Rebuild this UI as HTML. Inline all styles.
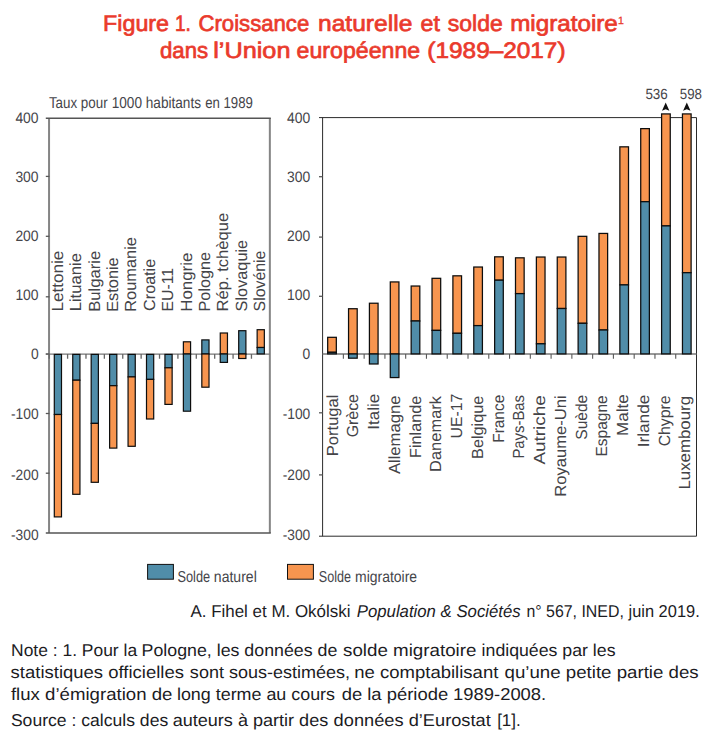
<!DOCTYPE html>
<html><head><meta charset="utf-8"><title>Figure 1</title>
<style>
html,body{margin:0;padding:0;background:#fff;}
body{width:717px;height:740px;overflow:hidden;font-family:"Liberation Sans",sans-serif;}
svg{display:block;position:absolute;left:0;top:0;}
text{font-family:"Liberation Sans",sans-serif;text-rendering:geometricPrecision;}
</style></head><body>
<svg width="717" height="740" viewBox="0 0 717 740">
<rect x="0" y="0" width="717" height="740" fill="#ffffff"/>

<g fill="#ea3a2c" stroke="#ea3a2c" stroke-width="0.7" font-size="22.5px" font-weight="normal">
<text x="103.09" y="31.4" textLength="65.94" lengthAdjust="spacingAndGlyphs">Figure</text>
<text x="174.96" y="31.4" textLength="15.86" lengthAdjust="spacingAndGlyphs">1.</text>
<text x="198.44" y="31.4" textLength="110.83" lengthAdjust="spacingAndGlyphs">Croissance</text>
<text x="318.05" y="31.4" textLength="94.25" lengthAdjust="spacingAndGlyphs">naturelle</text>
<text x="420.61" y="31.4" textLength="19.35" lengthAdjust="spacingAndGlyphs">et</text>
<text x="447.85" y="31.4" textLength="54.84" lengthAdjust="spacingAndGlyphs">solde</text>
<text x="510.18" y="31.4" textLength="107.63" lengthAdjust="spacingAndGlyphs">migratoire</text>
<text x="159.99" y="57.7" textLength="48.23" lengthAdjust="spacingAndGlyphs">dans</text>
<text x="213.21" y="57.7" textLength="77.27" lengthAdjust="spacingAndGlyphs">l’Union</text>
<text x="296.64" y="57.7" textLength="123.50" lengthAdjust="spacingAndGlyphs">européenne</text>
<text x="427.39" y="57.7" textLength="138.16" lengthAdjust="spacingAndGlyphs">(1989–2017)</text>
<text x="617.9" y="23.9" font-size="10.5px" stroke-width="0.3">1</text>
</g>
<g stroke="#585858" stroke-width="1.3" fill="none">
<path d="M49.05 118.1 V533.0 M269.85 118.1 V533.0" stroke="#858585" stroke-width="2"/>
<path d="M45.8 118.2 H270.8 M45.8 533.0 H270.8" stroke="#555" stroke-width="1.6"/>
<path d="M45.8 354.1 H270.0" stroke="#777" stroke-width="1.4"/>
<path d="M45.8 176.4 H49.4"/>
<path d="M45.8 236.3 H49.4"/>
<path d="M45.8 296.8 H49.4"/>
<path d="M45.8 354.0 H49.4"/>
<path d="M45.8 413.5 H49.4"/>
<path d="M45.8 473.2 H49.4"/>
<path d="M49.20 354.0 V358.8 M67.59 354.0 V358.8 M85.98 354.0 V358.8 M104.36 354.0 V358.8 M122.75 354.0 V358.8 M141.14 354.0 V358.8 M159.53 354.0 V358.8 M177.91 354.0 V358.8 M196.30 354.0 V358.8 M214.69 354.0 V358.8 M233.08 354.0 V358.8 M251.46 354.0 V358.8 " stroke-width="1.3" stroke="#666"/>
</g>
<g font-size="15.2px" fill="#45454a" text-anchor="end">
<text x="38.6" y="123.2" textLength="23.2" lengthAdjust="spacingAndGlyphs">400</text>
<text x="38.6" y="181.8" textLength="23.2" lengthAdjust="spacingAndGlyphs">300</text>
<text x="38.6" y="241.4" textLength="23.2" lengthAdjust="spacingAndGlyphs">200</text>
<text x="38.6" y="300.3" textLength="23.2" lengthAdjust="spacingAndGlyphs">100</text>
<text x="38.6" y="359.4" textLength="7.7" lengthAdjust="spacingAndGlyphs">0</text>
<text x="38.6" y="419.3" textLength="27.6" lengthAdjust="spacingAndGlyphs">-100</text>
<text x="38.6" y="480.3" textLength="27.6" lengthAdjust="spacingAndGlyphs">-200</text>
<text x="38.6" y="540.0" textLength="27.6" lengthAdjust="spacingAndGlyphs">-300</text>
</g>
<g>
<rect x="54.30" y="354.40" width="7.20" height="60.10" fill="#508da9" stroke="#0d0d0d" stroke-width="1.2"/>
<rect x="54.30" y="414.50" width="7.20" height="102.40" fill="#f7954f" stroke="#0d0d0d" stroke-width="1.2"/>
<rect x="72.74" y="354.40" width="7.20" height="25.80" fill="#508da9" stroke="#0d0d0d" stroke-width="1.2"/>
<rect x="72.74" y="380.20" width="7.20" height="114.10" fill="#f7954f" stroke="#0d0d0d" stroke-width="1.2"/>
<rect x="91.18" y="354.40" width="7.20" height="69.00" fill="#508da9" stroke="#0d0d0d" stroke-width="1.2"/>
<rect x="91.18" y="423.40" width="7.20" height="58.90" fill="#f7954f" stroke="#0d0d0d" stroke-width="1.2"/>
<rect x="109.62" y="354.40" width="7.20" height="31.30" fill="#508da9" stroke="#0d0d0d" stroke-width="1.2"/>
<rect x="109.62" y="385.70" width="7.20" height="62.40" fill="#f7954f" stroke="#0d0d0d" stroke-width="1.2"/>
<rect x="128.06" y="354.40" width="7.20" height="22.50" fill="#508da9" stroke="#0d0d0d" stroke-width="1.2"/>
<rect x="128.06" y="376.90" width="7.20" height="69.40" fill="#f7954f" stroke="#0d0d0d" stroke-width="1.2"/>
<rect x="146.50" y="354.40" width="7.20" height="25.00" fill="#508da9" stroke="#0d0d0d" stroke-width="1.2"/>
<rect x="146.50" y="379.40" width="7.20" height="39.60" fill="#f7954f" stroke="#0d0d0d" stroke-width="1.2"/>
<rect x="164.94" y="354.40" width="7.20" height="13.40" fill="#508da9" stroke="#0d0d0d" stroke-width="1.2"/>
<rect x="164.94" y="367.80" width="7.20" height="36.60" fill="#f7954f" stroke="#0d0d0d" stroke-width="1.2"/>
<rect x="183.38" y="341.80" width="7.20" height="12.20" fill="#f7954f" stroke="#0d0d0d" stroke-width="1.2"/>
<rect x="183.38" y="354.00" width="7.20" height="57.20" fill="#508da9" stroke="#0d0d0d" stroke-width="1.2"/>
<rect x="201.82" y="339.90" width="7.20" height="14.10" fill="#508da9" stroke="#0d0d0d" stroke-width="1.2"/>
<rect x="201.82" y="354.00" width="7.20" height="33.20" fill="#f7954f" stroke="#0d0d0d" stroke-width="1.2"/>
<rect x="220.26" y="333.00" width="7.20" height="21.00" fill="#f7954f" stroke="#0d0d0d" stroke-width="1.2"/>
<rect x="220.26" y="354.00" width="7.20" height="8.40" fill="#508da9" stroke="#0d0d0d" stroke-width="1.2"/>
<rect x="238.70" y="330.70" width="7.20" height="23.30" fill="#508da9" stroke="#0d0d0d" stroke-width="1.2"/>
<rect x="238.70" y="354.00" width="7.20" height="4.50" fill="#f7954f" stroke="#0d0d0d" stroke-width="1.2"/>
<rect x="257.14" y="329.70" width="7.20" height="17.80" fill="#f7954f" stroke="#0d0d0d" stroke-width="1.2"/>
<rect x="257.14" y="347.50" width="7.20" height="6.40" fill="#508da9" stroke="#0d0d0d" stroke-width="1.2"/>
</g>
<g stroke="#2a2a2a" stroke-width="1" fill="none">
<path d="M319.0 117.6 H696.5 V536.2 H319.0 M322.6 117.6 V536.2"/>
</g>
<g stroke="#585858" stroke-width="1.3" fill="none">
<path d="M322.6 354.0 H696.5" stroke="#777"/>
<path d="M319.0 176.7 H322.6"/>
<path d="M319.0 237.1 H322.6"/>
<path d="M319.0 296.3 H322.6"/>
<path d="M319.0 412.8 H322.6"/>
<path d="M319.0 474.9 H322.6"/>
<path d="M343.37 354.0 V358.8 M364.14 354.0 V358.8 M384.92 354.0 V358.8 M405.69 354.0 V358.8 M426.46 354.0 V358.8 M447.23 354.0 V358.8 M468.01 354.0 V358.8 M488.78 354.0 V358.8 M509.55 354.0 V358.8 M530.32 354.0 V358.8 M551.09 354.0 V358.8 M571.87 354.0 V358.8 M592.64 354.0 V358.8 M613.41 354.0 V358.8 M634.18 354.0 V358.8 M654.96 354.0 V358.8 M675.73 354.0 V358.8 " stroke-width="1.1"/>
</g>
<g font-size="15.2px" fill="#45454a" text-anchor="end">
<text x="310.3" y="123.2" textLength="23.2" lengthAdjust="spacingAndGlyphs">400</text>
<text x="310.3" y="181.8" textLength="23.2" lengthAdjust="spacingAndGlyphs">300</text>
<text x="310.3" y="241.3" textLength="23.2" lengthAdjust="spacingAndGlyphs">200</text>
<text x="310.3" y="300.3" textLength="23.2" lengthAdjust="spacingAndGlyphs">100</text>
<text x="310.3" y="359.4" textLength="7.7" lengthAdjust="spacingAndGlyphs">0</text>
<text x="310.3" y="418.9" textLength="27.6" lengthAdjust="spacingAndGlyphs">-100</text>
<text x="310.3" y="480.3" textLength="27.6" lengthAdjust="spacingAndGlyphs">-200</text>
<text x="310.3" y="540.1" textLength="27.6" lengthAdjust="spacingAndGlyphs">-300</text>
</g>
<g>
<rect x="327.68" y="337.32" width="8.65" height="14.98" fill="#f7954f" stroke="#0d0d0d" stroke-width="1.25"/>
<rect x="327.68" y="352.30" width="8.65" height="1.57" fill="#508da9" stroke="#0d0d0d" stroke-width="1.25"/>
<rect x="348.55" y="308.73" width="8.65" height="45.27" fill="#f7954f" stroke="#0d0d0d" stroke-width="1.25"/>
<rect x="348.55" y="354.00" width="8.65" height="4.18" fill="#508da9" stroke="#0d0d0d" stroke-width="1.25"/>
<rect x="369.42" y="303.23" width="8.65" height="50.77" fill="#f7954f" stroke="#0d0d0d" stroke-width="1.25"/>
<rect x="369.42" y="354.00" width="8.65" height="9.98" fill="#508da9" stroke="#0d0d0d" stroke-width="1.25"/>
<rect x="390.29" y="281.93" width="8.65" height="72.07" fill="#f7954f" stroke="#0d0d0d" stroke-width="1.25"/>
<rect x="390.29" y="354.00" width="8.65" height="23.57" fill="#508da9" stroke="#0d0d0d" stroke-width="1.25"/>
<rect x="411.16" y="286.03" width="8.65" height="34.97" fill="#f7954f" stroke="#0d0d0d" stroke-width="1.25"/>
<rect x="411.16" y="321.00" width="8.65" height="32.88" fill="#508da9" stroke="#0d0d0d" stroke-width="1.25"/>
<rect x="432.03" y="278.32" width="8.65" height="52.07" fill="#f7954f" stroke="#0d0d0d" stroke-width="1.25"/>
<rect x="432.03" y="330.40" width="8.65" height="23.48" fill="#508da9" stroke="#0d0d0d" stroke-width="1.25"/>
<rect x="452.90" y="275.82" width="8.65" height="57.48" fill="#f7954f" stroke="#0d0d0d" stroke-width="1.25"/>
<rect x="452.90" y="333.30" width="8.65" height="20.57" fill="#508da9" stroke="#0d0d0d" stroke-width="1.25"/>
<rect x="473.77" y="267.03" width="8.65" height="58.57" fill="#f7954f" stroke="#0d0d0d" stroke-width="1.25"/>
<rect x="473.77" y="325.60" width="8.65" height="28.27" fill="#508da9" stroke="#0d0d0d" stroke-width="1.25"/>
<rect x="494.64" y="256.82" width="8.65" height="23.38" fill="#f7954f" stroke="#0d0d0d" stroke-width="1.25"/>
<rect x="494.64" y="280.20" width="8.65" height="73.68" fill="#508da9" stroke="#0d0d0d" stroke-width="1.25"/>
<rect x="515.50" y="257.82" width="8.65" height="35.78" fill="#f7954f" stroke="#0d0d0d" stroke-width="1.25"/>
<rect x="515.50" y="293.60" width="8.65" height="60.27" fill="#508da9" stroke="#0d0d0d" stroke-width="1.25"/>
<rect x="536.38" y="257.03" width="8.65" height="86.77" fill="#f7954f" stroke="#0d0d0d" stroke-width="1.25"/>
<rect x="536.38" y="343.80" width="8.65" height="10.07" fill="#508da9" stroke="#0d0d0d" stroke-width="1.25"/>
<rect x="557.25" y="257.03" width="8.65" height="51.47" fill="#f7954f" stroke="#0d0d0d" stroke-width="1.25"/>
<rect x="557.25" y="308.50" width="8.65" height="45.38" fill="#508da9" stroke="#0d0d0d" stroke-width="1.25"/>
<rect x="578.12" y="236.33" width="8.65" height="86.97" fill="#f7954f" stroke="#0d0d0d" stroke-width="1.25"/>
<rect x="578.12" y="323.30" width="8.65" height="30.57" fill="#508da9" stroke="#0d0d0d" stroke-width="1.25"/>
<rect x="598.98" y="233.43" width="8.65" height="96.57" fill="#f7954f" stroke="#0d0d0d" stroke-width="1.25"/>
<rect x="598.98" y="330.00" width="8.65" height="23.88" fill="#508da9" stroke="#0d0d0d" stroke-width="1.25"/>
<rect x="619.86" y="146.83" width="8.65" height="138.07" fill="#f7954f" stroke="#0d0d0d" stroke-width="1.25"/>
<rect x="619.86" y="284.90" width="8.65" height="68.98" fill="#508da9" stroke="#0d0d0d" stroke-width="1.25"/>
<rect x="640.72" y="128.62" width="8.65" height="73.07" fill="#f7954f" stroke="#0d0d0d" stroke-width="1.25"/>
<rect x="640.72" y="201.70" width="8.65" height="152.18" fill="#508da9" stroke="#0d0d0d" stroke-width="1.25"/>
<rect x="661.60" y="113.92" width="8.65" height="111.98" fill="#f7954f" stroke="#0d0d0d" stroke-width="1.25"/>
<rect x="661.60" y="225.90" width="8.65" height="127.97" fill="#508da9" stroke="#0d0d0d" stroke-width="1.25"/>
<rect x="682.46" y="113.92" width="8.65" height="158.77" fill="#f7954f" stroke="#0d0d0d" stroke-width="1.25"/>
<rect x="682.46" y="272.70" width="8.65" height="81.18" fill="#508da9" stroke="#0d0d0d" stroke-width="1.25"/>
</g>
<path d="M665.7 102.6 L669.4000000000001 110.7 L665.7 109.2 L662.0 110.7 Z" fill="#111"/>
<path d="M686.8 102.6 L690.5 110.7 L686.8 109.2 L683.0999999999999 110.7 Z" fill="#111"/>
<g font-size="14.8px" fill="#45454a">
<text x="645.4" y="98.9" textLength="22.4" lengthAdjust="spacingAndGlyphs">536</text>
<text x="679.8" y="98.9" textLength="22.2" lengthAdjust="spacingAndGlyphs">598</text>
</g>
<g font-size="16.4px" fill="#444448">
<text transform="translate(63.0 311.56) rotate(-90) scale(1 0.98)" textLength="60.84" lengthAdjust="spacingAndGlyphs">Lettonie</text>
<text transform="translate(81.3 311.33) rotate(-90) scale(1 0.98)" textLength="58.24" lengthAdjust="spacingAndGlyphs">Lituanie</text>
<text transform="translate(99.7 311.80) rotate(-90) scale(1 0.98)" textLength="61.09" lengthAdjust="spacingAndGlyphs">Bulgarie</text>
<text transform="translate(118.1 311.80) rotate(-90) scale(1 0.98)" textLength="54.48" lengthAdjust="spacingAndGlyphs">Estonie</text>
<text transform="translate(136.4 311.80) rotate(-90) scale(1 0.98)" textLength="74.73" lengthAdjust="spacingAndGlyphs">Roumanie</text>
<text transform="translate(154.8 310.89) rotate(-90) scale(1 0.98)" textLength="52.06" lengthAdjust="spacingAndGlyphs">Croatie</text>
<text transform="translate(173.1 311.46) rotate(-90) scale(1 0.98)" textLength="43.61" lengthAdjust="spacingAndGlyphs">EU-11</text>
<text transform="translate(191.5 311.75) rotate(-90) scale(1 0.98)" textLength="59.10" lengthAdjust="spacingAndGlyphs">Hongrie</text>
<text transform="translate(209.8 311.46) rotate(-90) scale(1 0.98)" textLength="59.61" lengthAdjust="spacingAndGlyphs">Pologne</text>
<text transform="translate(228.2 311.46) rotate(-90) scale(1 0.98)" textLength="98.75" lengthAdjust="spacingAndGlyphs">Rép. tchèque</text>
<text transform="translate(246.5 311.38) rotate(-90) scale(1 0.98)" textLength="71.53" lengthAdjust="spacingAndGlyphs">Slovaquie</text>
<text transform="translate(264.9 311.38) rotate(-90) scale(1 0.98)" textLength="60.73" lengthAdjust="spacingAndGlyphs">Slovénie</text>
<text transform="translate(337.6 456.26) rotate(-90) scale(1 0.98)" textLength="61.76" lengthAdjust="spacingAndGlyphs">Portugal</text>
<text transform="translate(358.4 437.36) rotate(-90) scale(1 0.98)" textLength="43.28" lengthAdjust="spacingAndGlyphs">Grèce</text>
<text transform="translate(379.1 429.69) rotate(-90) scale(1 0.98)" textLength="35.79" lengthAdjust="spacingAndGlyphs">Italie</text>
<text transform="translate(399.9 474.12) rotate(-90) scale(1 0.98)" textLength="78.57" lengthAdjust="spacingAndGlyphs">Allemagne</text>
<text transform="translate(420.6 457.93) rotate(-90) scale(1 0.98)" textLength="62.25" lengthAdjust="spacingAndGlyphs">Finlande</text>
<text transform="translate(441.4 471.93) rotate(-90) scale(1 0.98)" textLength="75.94" lengthAdjust="spacingAndGlyphs">Danemark</text>
<text transform="translate(462.1 438.46) rotate(-90) scale(1 0.98)" textLength="44.71" lengthAdjust="spacingAndGlyphs">UE-17</text>
<text transform="translate(482.9 458.93) rotate(-90) scale(1 0.98)" textLength="63.25" lengthAdjust="spacingAndGlyphs">Belgique</text>
<text transform="translate(503.6 442.79) rotate(-90) scale(1 0.98)" textLength="48.04" lengthAdjust="spacingAndGlyphs">France</text>
<text transform="translate(524.4 458.59) rotate(-90) scale(1 0.98)" textLength="63.63" lengthAdjust="spacingAndGlyphs">Pays-Bas</text>
<text transform="translate(545.1 464.58) rotate(-90) scale(1 0.98)" textLength="69.38" lengthAdjust="spacingAndGlyphs">Autriche</text>
<text transform="translate(565.9 496.80) rotate(-90) scale(1 0.98)" textLength="101.60" lengthAdjust="spacingAndGlyphs">Royaume-Uni</text>
<text transform="translate(586.7 439.73) rotate(-90) scale(1 0.98)" textLength="44.92" lengthAdjust="spacingAndGlyphs">Suède</text>
<text transform="translate(607.4 456.48) rotate(-90) scale(1 0.98)" textLength="61.13" lengthAdjust="spacingAndGlyphs">Espagne</text>
<text transform="translate(628.2 435.93) rotate(-90) scale(1 0.98)" textLength="41.68" lengthAdjust="spacingAndGlyphs">Malte</text>
<text transform="translate(648.9 447.30) rotate(-90) scale(1 0.98)" textLength="52.59" lengthAdjust="spacingAndGlyphs">Irlande</text>
<text transform="translate(669.7 446.36) rotate(-90) scale(1 0.98)" textLength="50.99" lengthAdjust="spacingAndGlyphs">Chypre</text>
<text transform="translate(690.4 489.56) rotate(-90) scale(1 0.98)" textLength="93.58" lengthAdjust="spacingAndGlyphs">Luxembourg</text>
</g>
<rect x="147.6" y="564.4" width="25.8" height="14.8" fill="#508da9" stroke="#111" stroke-width="1"/>
<rect x="287.5" y="564.4" width="25.9" height="14.8" fill="#f7954f" stroke="#111" stroke-width="1"/>
<g>
<text x="11.09" y="655.6" font-size="17.2px" fill="#1c1c1f" textLength="126.01" lengthAdjust="spacingAndGlyphs">Note : 1. Pour la</text>
<text x="141.58" y="655.6" font-size="17.2px" fill="#1c1c1f" textLength="195.70" lengthAdjust="spacingAndGlyphs">Pologne, les données de</text>
<text x="343.07" y="655.6" font-size="17.2px" fill="#1c1c1f" textLength="133.37" lengthAdjust="spacingAndGlyphs">solde migratoire</text>
<text x="481.60" y="655.6" font-size="17.2px" fill="#1c1c1f" textLength="133.91" lengthAdjust="spacingAndGlyphs">indiquées par les</text>
<text x="10.61" y="677.7" font-size="17.2px" fill="#1c1c1f" textLength="173.32" lengthAdjust="spacingAndGlyphs">statistiques officielles</text>
<text x="189.89" y="677.7" font-size="17.2px" fill="#1c1c1f" textLength="160.18" lengthAdjust="spacingAndGlyphs">sont sous-estimées,</text>
<text x="354.28" y="677.7" font-size="17.2px" fill="#1c1c1f" textLength="144.06" lengthAdjust="spacingAndGlyphs">ne comptabilisant</text>
<text x="504.56" y="677.7" font-size="17.2px" fill="#1c1c1f" textLength="194.16" lengthAdjust="spacingAndGlyphs">qu’une petite partie des</text>
<text x="10.93" y="699.7" font-size="17.2px" fill="#1c1c1f" textLength="161.49" lengthAdjust="spacingAndGlyphs">flux d’émigration de</text>
<text x="176.95" y="699.7" font-size="17.2px" fill="#1c1c1f" textLength="158.09" lengthAdjust="spacingAndGlyphs">long terme au cours</text>
<text x="341.70" y="699.7" font-size="17.2px" fill="#1c1c1f" textLength="106.45" lengthAdjust="spacingAndGlyphs">de la période</text>
<text x="453.05" y="699.7" font-size="17.2px" fill="#1c1c1f" textLength="93.19" lengthAdjust="spacingAndGlyphs">1989-2008.</text>
<text x="10.90" y="725.9" font-size="17.2px" fill="#1c1c1f" textLength="157.31" lengthAdjust="spacingAndGlyphs">Source : calculs des</text>
<text x="172.67" y="725.9" font-size="17.2px" fill="#1c1c1f" textLength="155.55" lengthAdjust="spacingAndGlyphs">auteurs à partir des</text>
<text x="333.63" y="725.9" font-size="17.2px" fill="#1c1c1f" textLength="157.12" lengthAdjust="spacingAndGlyphs">données d’Eurostat</text>
<text x="497.16" y="725.9" font-size="17.2px" fill="#1c1c1f" textLength="23.59" lengthAdjust="spacingAndGlyphs">[1].</text>
<text x="190.47" y="616.5" font-size="17.2px" fill="#1c1c1f" textLength="159.94" lengthAdjust="spacingAndGlyphs">A. Fihel et M. Okólski</text>
<text x="356.78" y="616.5" font-size="17.2px" font-style="italic" fill="#1c1c1f" textLength="163.92" lengthAdjust="spacingAndGlyphs">Population &amp; Sociétés</text>
<text x="526.47" y="616.5" font-size="17.2px" fill="#1c1c1f" textLength="97.35" lengthAdjust="spacingAndGlyphs">n° 567, INED,</text>
<text x="628.51" y="616.5" font-size="17.2px" fill="#1c1c1f" textLength="71.22" lengthAdjust="spacingAndGlyphs">juin 2019.</text>
<text x="48.88" y="108.1" font-size="15.8px" fill="#45454a" textLength="58.77" lengthAdjust="spacingAndGlyphs">Taux pour</text>
<text x="111.70" y="108.1" font-size="15.8px" fill="#45454a" textLength="89.31" lengthAdjust="spacingAndGlyphs">1000 habitants</text>
<text x="205.17" y="108.1" font-size="15.8px" fill="#45454a" textLength="47.74" lengthAdjust="spacingAndGlyphs">en 1989</text>
<text x="177.47" y="582.1" font-size="15.8px" fill="#45454a" textLength="32.73" lengthAdjust="spacingAndGlyphs">Solde</text>
<text x="213.86" y="582.1" font-size="15.8px" fill="#45454a" textLength="42.93" lengthAdjust="spacingAndGlyphs">naturel</text>
<text x="318.78" y="582.1" font-size="15.8px" fill="#45454a" textLength="32.14" lengthAdjust="spacingAndGlyphs">Solde</text>
<text x="355.01" y="582.1" font-size="15.8px" fill="#45454a" textLength="62.14" lengthAdjust="spacingAndGlyphs">migratoire</text>
</g>
</svg>
</body></html>
